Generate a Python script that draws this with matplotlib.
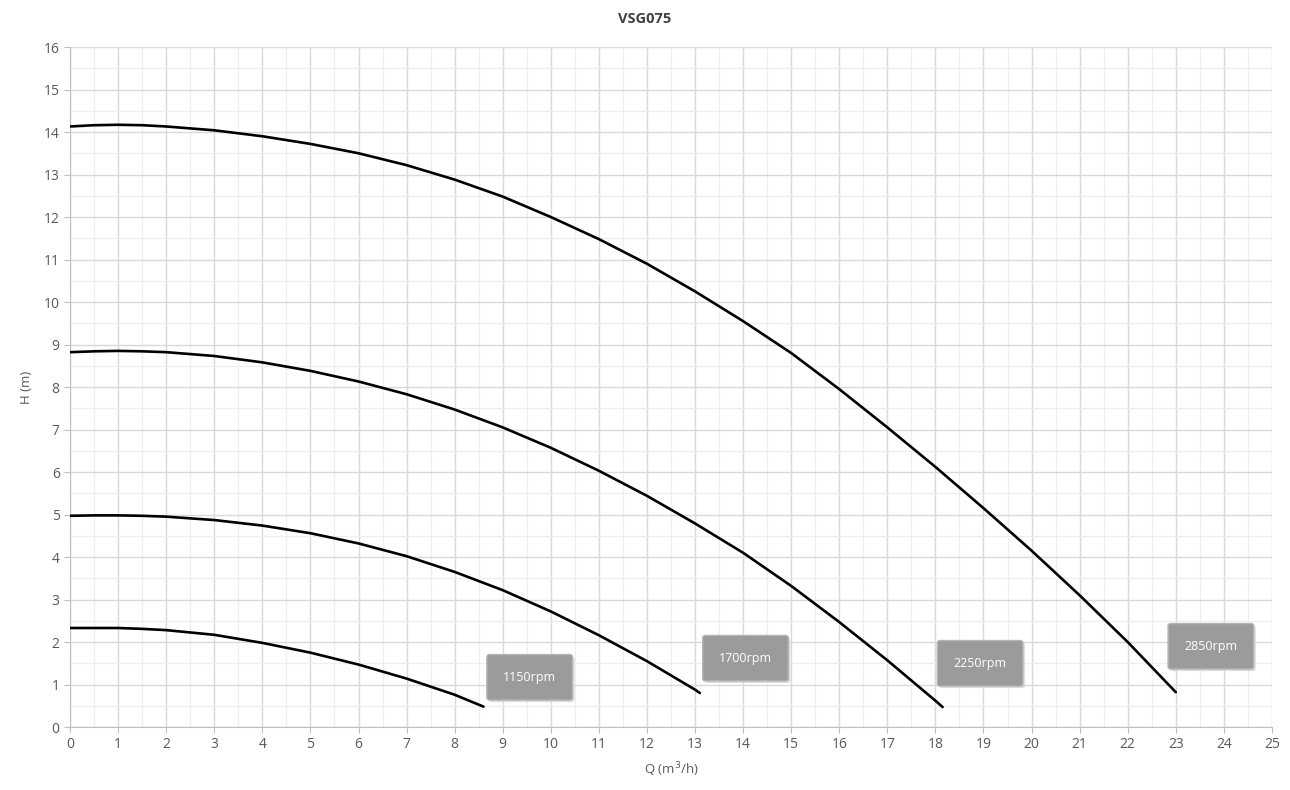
import matplotlib
matplotlib.use('agg')
import matplotlib.pyplot as plt
from matplotlib.ticker import MultipleLocator

plt.rcParams['font.family'] = ['Open Sans', 'DejaVu Sans']

# pump curves, Q in m3/h, H in m
q_2850 = [0, 0.5, 1, 1.5, 2, 3, 4, 5, 6, 7, 8, 9, 10, 11, 12, 13, 14, 15, 16, 17, 18, 19, 20,
          21, 22, 23]
h_2850 = [14.13, 14.16, 14.17, 14.16, 14.13, 14.04, 13.9, 13.72, 13.5, 13.22, 12.88, 12.48,
          12.0, 11.48, 10.9, 10.25, 9.55, 8.8, 7.95, 7.05, 6.12, 5.15, 4.15, 3.1, 2.0, 0.82]

q_2250 = [0, 0.5, 1, 1.5, 2, 3, 4, 5, 6, 7, 8, 9, 10, 11, 12, 13, 14, 15, 16, 17, 18, 18.15]
h_2250 = [8.82, 8.84, 8.85, 8.84, 8.82, 8.73, 8.58, 8.38, 8.13, 7.83, 7.47, 7.05, 6.57, 6.03,
          5.44, 4.79, 4.1, 3.32, 2.47, 1.57, 0.62, 0.47]

q_1700 = [0, 0.5, 1, 1.5, 2, 3, 4, 5, 6, 7, 8, 9, 10, 11, 12, 13, 13.1]
h_1700 = [4.97, 4.98, 4.98, 4.97, 4.95, 4.87, 4.74, 4.56, 4.32, 4.02, 3.65, 3.22, 2.72, 2.16,
          1.55, 0.88, 0.8]

q_1150 = [0, 0.5, 1, 1.5, 2, 3, 4, 5, 6, 7, 8, 8.6]
h_1150 = [2.33, 2.33, 2.33, 2.31, 2.28, 2.17, 1.98, 1.75, 1.47, 1.14, 0.76, 0.48]

labels = ['1150rpm', '1700rpm', '2250rpm', '2850rpm']
label_x = [9.56, 14.05, 18.93, 23.73]
label_y = [1.17, 1.62, 1.5, 1.9]

fig = plt.figure(figsize=(12.9, 7.9), dpi=100)
ax = fig.add_axes([0.0543, 0.0797, 0.9317, 0.8608])

for q, h in [(q_2850, h_2850), (q_2250, h_2250), (q_1700, h_1700), (q_1150, h_1150)]:
    ax.plot(q, h, color='black', lw=1.9, solid_capstyle='round', solid_joinstyle='round',
            zorder=3)

for lab, x, y in zip(labels, label_x, label_y):
    # soft shadow first, then the grey box
    ax.annotate(lab, (x, y), xytext=(1.5, -1.5), textcoords='offset points',
                ha='center', va='center', color='none', fontsize=9, zorder=4,
                bbox=dict(boxstyle='round,pad=1.3,rounding_size=0.2',
                          fc='#d0d0d0', ec='none', alpha=0.7))
    ax.text(x, y, lab, ha='center', va='center', color='white', fontsize=9, zorder=5,
            bbox=dict(boxstyle='round,pad=1.3,rounding_size=0.2',
                      fc='#9b9b9b', ec='#b5b5b5', lw=1.0))

ax.set_xlim(0, 25)
ax.set_ylim(0, 16)
ax.xaxis.set_major_locator(MultipleLocator(1))
ax.yaxis.set_major_locator(MultipleLocator(1))
ax.xaxis.set_minor_locator(MultipleLocator(0.5))
ax.yaxis.set_minor_locator(MultipleLocator(0.5))
ax.grid(which='major', color='#d9d9d9', lw=1.0)
ax.grid(which='minor', color='#eeeeee', lw=0.9)
ax.set_axisbelow(True)

for s in ['top', 'right']:
    ax.spines[s].set_visible(False)
for s in ['left', 'bottom']:
    ax.spines[s].set_color('#bfbfbf')
ax.tick_params(which='major', colors='#bfbfbf', labelcolor='#595959', labelsize=10, length=4)
ax.tick_params(which='minor', length=0)

ax.set_xlabel('Q (m$^3$/h)', color='#595959', fontsize=9.5, labelpad=6)
ax.set_ylabel('H (m)', color='#595959', fontsize=9.5, labelpad=8)
fig.suptitle('VSG075', y=0.985, fontsize=10.5, fontweight='bold', color='#404040')

fig.savefig('out.png', dpi=100)
